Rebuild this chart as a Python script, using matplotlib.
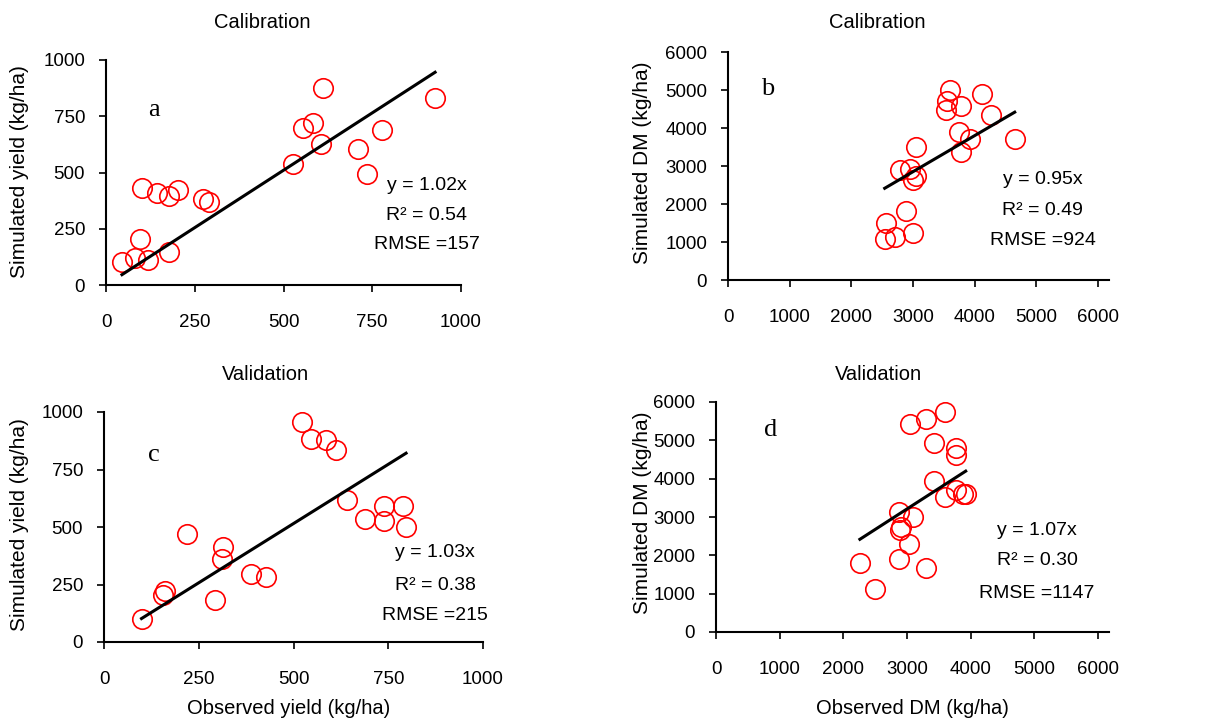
import numpy as np
import matplotlib
matplotlib.use("Agg")
import matplotlib.pyplot as plt

plt.rcParams['font.family'] = ['Liberation Sans', 'DejaVu Sans']

# panel a - calibration, yield
obs_a = [45, 82, 95, 118, 101, 143, 178, 203, 178, 273, 291, 526, 556, 582, 605, 611, 711, 734, 778, 927]
sim_a = [102, 120, 205, 111, 431, 409, 396, 422, 147, 382, 369, 538, 697, 720, 627, 875, 603, 493, 689, 830]
# panel b - calibration, DM
obs_b = [2557, 2541, 2703, 2881, 3000, 2784, 2946, 3000, 3043, 3043, 3541, 3551, 3605, 3784, 3746, 3784, 3930, 4124, 4270, 4649]
sim_b = [1507, 1069, 1139, 1813, 1226, 2891, 2934, 2628, 2733, 3504, 4467, 4712, 5010, 4572, 3898, 3372, 3723, 4888, 4336, 3723]
# panel c - validation, yield
obs_c = [99, 155, 160, 218, 293, 313, 311, 387, 427, 522, 546, 586, 613, 641, 689, 739, 739, 789, 797]
sim_c = [101, 205, 222, 471, 184, 413, 362, 294, 283, 957, 884, 877, 836, 616, 536, 590, 526, 590, 500]
# panel d - validation, DM
obs_d = [2260, 2495, 2872, 3306, 3034, 2887, 2913, 2872, 3097, 3426, 3593, 3776, 3880, 3922, 3766, 3776, 3426, 3044, 3306, 3593]
sim_d = [1800, 1113, 1913, 1678, 2304, 2652, 2739, 3130, 3000, 3939, 3522, 3696, 3609, 3609, 4609, 4809, 4930, 5417, 5565, 5739]

slopes = [1.02, 0.95, 1.03, 1.07]
r2 = ["0.54", "0.49", "0.38", "0.30"]
rmse = ["157", "924", "215", "1147"]
letters = ["a", "b", "c", "d"]
titles = ["Calibration", "Calibration", "Validation", "Validation"]

W, H = 1213, 722
fig = plt.figure(figsize=(W / 100, H / 100), dpi=100)

def fx(px):
    return px / W

def fy(py):
    return 1 - py / H

# axes boxes in pixels: left, right, top, bottom
boxes = [(106, 461, 60, 285), (728, 1109, 52, 280), (104, 483, 412, 642), (716, 1109, 402, 632)]
xlims = [1000, 6178, 1000, 6173]
ylims = [1000, 6000, 1000, 6000]
xticks = [np.arange(0, 1001, 250), np.arange(0, 6001, 1000), np.arange(0, 1001, 250), np.arange(0, 6001, 1000)]
txt_pos = [(0.904, [0.444, 0.311, 0.178]), (0.826, [0.439, 0.307, 0.172]),
           (0.874, [0.387, 0.247, 0.116]), (0.817, [0.442, 0.312, 0.167])]
let_pos = [(0.135, 0.778), (0.105, 0.838), (0.132, 0.812), (0.139, 0.877)]
title_pos = [(262, 23), (877, 23), (265, 375), (878, 375)]
ylabels = ["Simulated yield (kg/ha)", "Simulated DM (kg/ha)", "Simulated yield (kg/ha)", "Simulated DM (kg/ha)"]
ylab_pos = [(20, 172), (643, 163), (20, 525), (642, 513)]

data = [(obs_a, sim_a), (obs_b, sim_b), (obs_c, sim_c), (obs_d, sim_d)]

for i in range(4):
    l, r, t, b = boxes[i]
    ax = fig.add_axes([fx(l), fy(b), (r - l) / W, (b - t) / H])
    x, y = data[i]
    ax.plot(x, y, 'o', ms=14, mfc='none', mec='#ff0000', mew=1.2)
    xx = np.array([min(x), max(x)])
    ax.plot(xx, slopes[i] * xx, color='black', lw=2.2)
    ax.set_xlim(0, xlims[i])
    ax.set_ylim(0, ylims[i])
    ax.set_xticks(xticks[i])
    ax.set_yticks(xticks[i])
    for s in ['top', 'right']:
        ax.spines[s].set_visible(False)
    for s in ['left', 'bottom']:
        ax.spines[s].set_linewidth(1.5)
    ax.tick_params(axis='both', direction='out', length=5, width=1.2, labelsize=13.5)
    ax.tick_params(axis='x', pad=16)
    ax.tick_params(axis='y', pad=10)
    tx, tys = txt_pos[i]
    ax.text(tx, tys[0], "y = %.2fx" % slopes[i], transform=ax.transAxes, ha='center', va='center', fontsize=14)
    ax.text(tx, tys[1], "R² = " + r2[i], transform=ax.transAxes, ha='center', va='center', fontsize=14)
    ax.text(tx, tys[2], "RMSE =" + rmse[i], transform=ax.transAxes, ha='center', va='center', fontsize=14)
    ax.text(let_pos[i][0], let_pos[i][1], letters[i], transform=ax.transAxes, ha='center', va='center',
            fontsize=19, family='Liberation Serif')
    fig.text(fx(title_pos[i][0]), fy(title_pos[i][1]), titles[i], ha='center', va='center', fontsize=14.5)
    fig.text(fx(ylab_pos[i][0]), fy(ylab_pos[i][1]), ylabels[i], ha='center', va='center', rotation=90, fontsize=15)

fig.text(fx(289), fy(708), "Observed yield (kg/ha)", ha='center', va='center', fontsize=14.5)
fig.text(fx(912), fy(708), "Observed DM (kg/ha)", ha='center', va='center', fontsize=14.5)

fig.savefig("out.png", dpi=100)
